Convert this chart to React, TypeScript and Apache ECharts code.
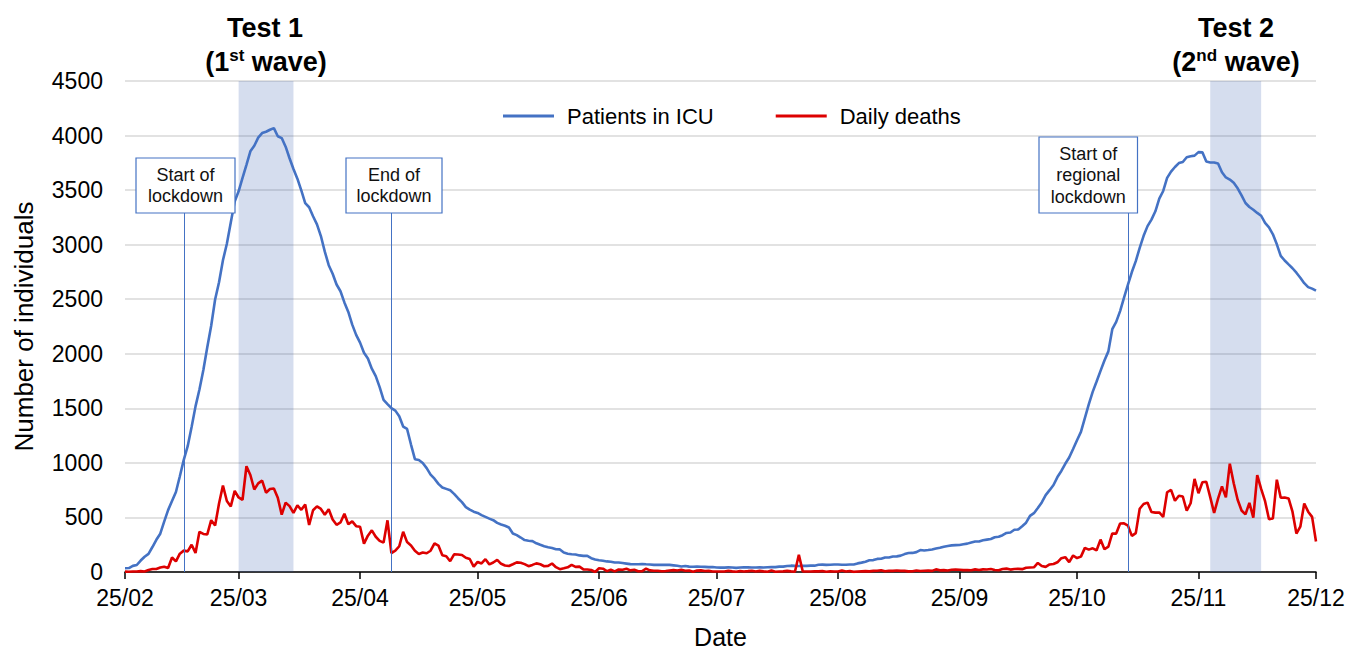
import React, { useEffect, useRef } from "react";
import * as echarts from "echarts";

const FONT = "'Liberation Sans', Arial, Helvetica, sans-serif";

const startDate = "2020-02-25";
const dayCount = 305;

const tickDates = [
  "2020-02-25", "2020-03-25", "2020-04-25", "2020-05-25", "2020-06-25", "2020-07-25",
  "2020-08-25", "2020-09-25", "2020-10-25", "2020-11-25", "2020-12-25",
];

// Patients in ICU (per day, 25/02 .. 25/12)
const icuFeb = [35, 36, 56, 64, 105];
const icuMar = [140, 166, 229, 295, 351, 462, 567, 650, 733, 877, 1028, 1153, 1328, 1518, 1672, 1851, 2060, 2257, 2498, 2655, 2857, 3009, 3204, 3396, 3489, 3612, 3732, 3856, 3906, 3981, 4023];
const icuApr = [4035, 4053, 4068, 3994, 3977, 3898, 3792, 3693, 3605, 3497, 3381, 3343, 3260, 3186, 3079, 2936, 2812, 2733, 2635, 2573, 2471, 2384, 2267, 2173, 2102, 2009, 1956, 1863, 1795, 1694];
const icuMay = [1578, 1539, 1501, 1479, 1427, 1333, 1311, 1168, 1034, 1027, 999, 952, 893, 855, 808, 775, 762, 749, 716, 676, 640, 595, 572, 553, 541, 521, 505, 489, 475, 450, 435];
const icuJun = [424, 408, 353, 338, 316, 293, 287, 283, 263, 249, 236, 227, 220, 209, 207, 178, 168, 163, 161, 152, 148, 148, 127, 115, 107, 103, 97, 94, 87, 87];
const icuJul = [82, 77, 72, 71, 71, 74, 71, 69, 65, 65, 65, 67, 65, 61, 57, 51, 55, 49, 48, 49, 48, 47, 45, 46, 41, 40, 40, 42, 41, 38, 41];
const icuAug = [42, 42, 41, 41, 42, 41, 43, 45, 45, 49, 49, 55, 58, 56, 55, 56, 56, 58, 58, 66, 68, 65, 66, 69, 69, 67, 66, 69, 69, 79, 86];
const icuSep = [94, 107, 109, 120, 121, 133, 133, 142, 143, 150, 164, 174, 175, 182, 201, 197, 201, 207, 215, 222, 232, 239, 244, 246, 247, 254, 260, 271, 280, 280];
const icuOct = [291, 297, 303, 319, 323, 337, 358, 362, 387, 390, 420, 452, 514, 539, 586, 638, 705, 750, 797, 870, 926, 992, 1049, 1128, 1208, 1284, 1411, 1536, 1651, 1746, 1843];
const icuNov = [1939, 2022, 2225, 2292, 2391, 2515, 2634, 2749, 2849, 2971, 3081, 3170, 3230, 3306, 3422, 3492, 3612, 3670, 3712, 3748, 3758, 3801, 3810, 3816, 3848, 3846, 3762, 3753, 3753, 3744];
const icuDec = [3663, 3616, 3597, 3567, 3517, 3452, 3382, 3345, 3320, 3291, 3265, 3199, 3158, 3095, 3003, 2897, 2855, 2819, 2784, 2743, 2697, 2647, 2611, 2597, 2579];

// Daily deaths (per day, 25/02 .. 25/12)
const deathsFeb = [3, 2, 5, 4, 8];
const deathsMar = [5, 18, 27, 28, 41, 49, 36, 133, 97, 168, 196, 189, 250, 175, 368, 349, 345, 475, 427, 627, 793, 651, 601, 743, 683, 662, 969, 889, 756, 812, 837];
const deathsApr = [727, 760, 766, 681, 525, 636, 604, 542, 610, 570, 619, 431, 566, 602, 578, 525, 575, 482, 433, 454, 534, 437, 464, 420, 415, 260, 333, 382, 323, 285];
const deathsMay = [269, 474, 174, 195, 236, 369, 274, 243, 194, 165, 179, 172, 195, 262, 242, 153, 145, 99, 162, 161, 156, 130, 119, 50, 92, 78, 117, 70, 87, 111, 75];
const deathsJun = [60, 55, 71, 88, 85, 72, 53, 65, 79, 71, 53, 56, 78, 44, 26, 34, 43, 66, 47, 49, 24, 23, 18, 0, 34, 30, 8, 22, 6, 23];
const deathsJul = [21, 30, 15, 21, 7, 8, 30, 15, 12, 12, 7, 9, 13, 17, 13, 20, 11, 14, 3, 13, 15, 9, 10, 5, 5, 5, 5, 11, 6, 3, 9];
const deathsAug = [5, 8, 12, 5, 10, 6, 3, 13, 2, 4, 6, 10, 6, 3, 158, 4, 4, 5, 7, 6, 9, 3, 7, 4, 4, 13, 5, 9, 1, 4, 6];
const deathsSep = [8, 6, 10, 11, 16, 7, 12, 10, 14, 10, 10, 6, 7, 14, 9, 12, 13, 10, 24, 15, 17, 14, 20, 23, 20, 17, 17, 16, 24, 19];
const deathsOct = [24, 23, 27, 18, 16, 28, 31, 22, 28, 29, 26, 39, 41, 43, 83, 55, 47, 69, 73, 89, 127, 136, 91, 151, 128, 141, 221, 205, 217, 199, 297];
const deathsNov = [208, 233, 353, 352, 445, 446, 425, 331, 356, 580, 623, 636, 550, 544, 546, 504, 731, 753, 653, 699, 692, 562, 630, 853, 722, 822, 827, 686, 541, 672];
const deathsDec = [785, 684, 993, 814, 662, 564, 528, 634, 499, 887, 761, 649, 484, 491, 846, 680, 683, 674, 553, 352, 415, 628, 553, 505, 280];

const icu = [...icuFeb, ...icuMar, ...icuApr, ...icuMay, ...icuJun, ...icuJul, ...icuAug, ...icuSep, ...icuOct, ...icuNov, ...icuDec];
const deaths = [...deathsFeb, ...deathsMar, ...deathsApr, ...deathsMay, ...deathsJun, ...deathsJul, ...deathsAug, ...deathsSep, ...deathsOct, ...deathsNov, ...deathsDec];

const testPeriods = [
  ["2020-03-25", "2020-04-08"],
  ["2020-11-28", "2020-12-11"],
];
const eventDates = ["2020-03-11", "2020-05-03", "2020-11-07"];
const eventLineTop = 3305;

function buildDates(start: string, n: number): string[] {
  const out: string[] = [];
  const d = new Date(start + "T00:00:00Z");
  for (let i = 0; i < n; i++) {
    out.push(d.toISOString().slice(0, 10));
    d.setUTCDate(d.getUTCDate() + 1);
  }
  return out;
}

const categories = buildDates(startDate, dayCount);

const BLUE = "#4472c4";
const RED = "#dd0000";

function titleText(x: number, y: number, text: string) {
  return {
    type: "text",
    x,
    y,
    z: 100,
    style: {
      text,
      fill: "#000",
      font: `bold 27px ${FONT}`,
      fontSize: 27,
      fontWeight: "bold",
      fontFamily: FONT,
      align: "center",
      verticalAlign: "middle",
      textAlign: "center",
      textVerticalAlign: "middle",
    },
  };
}

function waveText(x: number, y: number, num: string, sup: string) {
  return {
    type: "text",
    x,
    y,
    z: 100,
    style: {
      text: `{b|(${num}}{s|${sup}}{b| wave)}`,
      fill: "#000",
      align: "center",
      verticalAlign: "middle",
      textAlign: "center",
      textVerticalAlign: "middle",
      rich: {
        b: { fontSize: 27, fontWeight: "bold", fontFamily: FONT, fill: "#000", lineHeight: 30 },
        s: { fontSize: 17, fontWeight: "bold", fontFamily: FONT, fill: "#000", verticalAlign: "top", lineHeight: 30, padding: [0, 0, 8, 0] },
      },
    },
  };
}

function noteBox(x: number, y: number, w: number, h: number, text: string) {
  return {
    type: "group",
    z: 100,
    children: [
      {
        type: "rect",
        z: 100,
        shape: { x, y, width: w, height: h },
        style: { fill: "#fff", stroke: BLUE, lineWidth: 1.2 },
      },
      {
        type: "text",
        z: 101,
        x: x + w / 2,
        y: y + h / 2,
        style: {
          text,
          fill: "#111",
          fontSize: 18,
          fontFamily: FONT,
          lineHeight: 21.5,
          align: "center",
          verticalAlign: "middle",
          textAlign: "center",
          textVerticalAlign: "middle",
        },
      },
    ],
  };
}

export default function App() {
  const ref = useRef<HTMLDivElement>(null);

  useEffect(() => {
    if (!ref.current) return;
    const chart = echarts.init(ref.current, undefined, { renderer: "svg" });
    const isTick = (_i: number, v: string) => tickDates.includes(v);

    chart.setOption({
      animation: false,
      backgroundColor: "#fff",
      textStyle: { fontFamily: FONT },
      grid: { left: 125, right: 44, top: 81, bottom: 76, containLabel: false },
      legend: {
        data: [{ name: "Patients in ICU" }, { name: "Daily deaths" }],
        left: 498,
        top: 100,
        icon: "rect",
        itemWidth: 51,
        itemHeight: 3,
        itemGap: 62,
        textStyle: { fontSize: 22, color: "#000", fontFamily: FONT, padding: [0, 0, 0, 8] },
      },
      xAxis: {
        type: "category",
        data: categories,
        boundaryGap: false,
        name: "Date",
        nameLocation: "middle",
        nameGap: 52,
        nameTextStyle: { fontSize: 25, color: "#000", fontFamily: FONT },
        axisLine: { show: true, lineStyle: { color: "#000", width: 1.5 } },
        axisTick: { show: true, interval: isTick, length: 7, lineStyle: { color: "#000", width: 1.5 } },
        axisLabel: {
          interval: isTick,
          formatter: (v: string) => `${v.slice(8, 10)}/${v.slice(5, 7)}`,
          fontSize: 23,
          color: "#000",
          margin: 14,
          fontFamily: FONT,
          hideOverlap: false,
        },
        splitLine: { show: false },
      },
      yAxis: {
        type: "value",
        min: 0,
        max: 4500,
        interval: 500,
        name: "Number of individuals",
        nameLocation: "middle",
        nameGap: 88,
        nameTextStyle: { fontSize: 26, color: "#000", fontFamily: FONT },
        axisLine: { show: false },
        axisTick: { show: false },
        axisLabel: {
          fontSize: 23,
          color: "#000",
          margin: 22,
          fontFamily: FONT,
          formatter: (v: number) => String(v),
        },
        splitLine: { show: true, lineStyle: { color: "#d9d9d9", width: 1.5 } },
      },
      series: [
        {
          name: "Patients in ICU",
          type: "line",
          data: icu,
          showSymbol: false,
          symbol: "none",
          lineStyle: { color: BLUE, width: 2.6 },
          itemStyle: { color: BLUE },
          z: 2,
        },
        {
          name: "Daily deaths",
          type: "line",
          data: deaths,
          showSymbol: false,
          symbol: "none",
          lineStyle: { color: RED, width: 2.6 },
          itemStyle: { color: RED },
          z: 3,
        },
        {
          name: "annotations",
          type: "line",
          data: [],
          z: 10,
          silent: true,
          markArea: {
            silent: true,
            itemStyle: { color: "rgba(47,85,170,0.2)" },
            data: testPeriods.map(([a, b]) => [{ xAxis: a }, { xAxis: b }]),
          },
          markLine: {
            silent: true,
            symbol: ["none", "none"],
            label: { show: false },
            lineStyle: { color: BLUE, width: 1, type: "solid" },
            data: eventDates.map((d) => [{ coord: [d, 0] }, { coord: [d, eventLineTop] }]),
          },
        },
      ],
      graphic: [
        titleText(265, 28, "Test 1"),
        waveText(266, 62, "1", "st"),
        titleText(1236, 28, "Test 2"),
        waveText(1236, 62, "2", "nd"),
        noteBox(136, 158, 99, 55, "Start of\nlockdown"),
        noteBox(346, 158, 96, 55, "End of\nlockdown"),
        noteBox(1039, 137, 98.5, 76, "Start of\nregional\nlockdown"),
      ],
    });

    return () => chart.dispose();
  }, []);

  return (
    <div
      ref={ref}
      style={{ position: "fixed", left: 0, top: 0, width: 1360, height: 654, background: "#fff" }}
    />
  );
}
